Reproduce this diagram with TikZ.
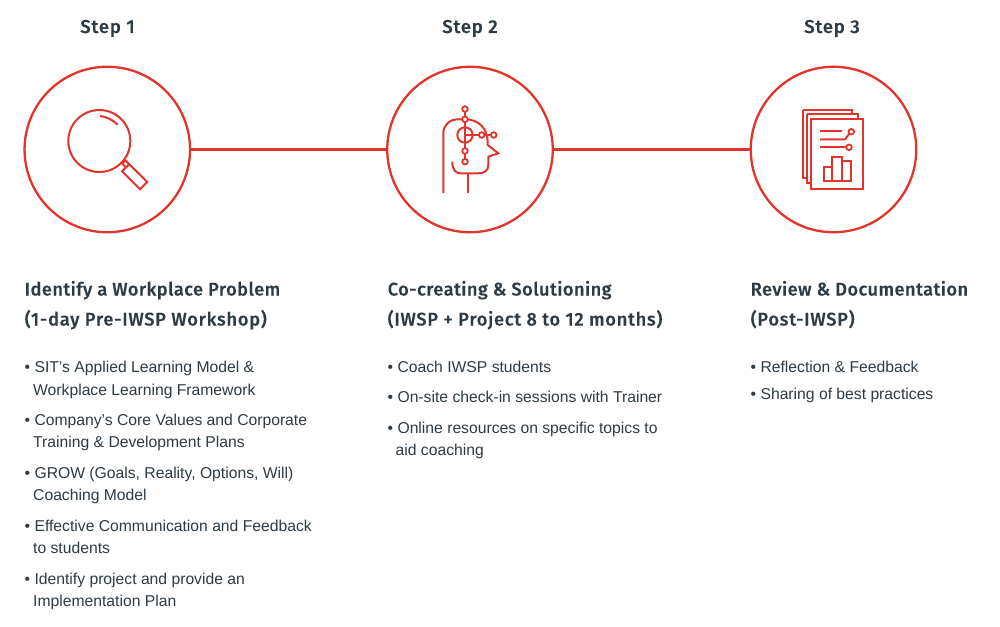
\documentclass[tikz,border=0pt]{standalone}
\usepackage{fontspec}
\setmainfont{Liberation Sans}
\newfontfamily\headfont[LetterSpace=2.3,FakeBold=0.15]{Fira Sans Medium}
\newfontfamily\headfontwide[LetterSpace=4,FakeBold=0.15]{Fira Sans Medium}
\definecolor{iwred}{HTML}{E1352B}
\definecolor{iwink}{HTML}{2F3B43}
\tikzset{
  x=1pt,y=-1pt,
  bigcirc/.style={circle,draw=iwred,line width=2.3pt,minimum size=165.5pt,inner sep=0pt,fill=white},
  link/.style={draw=iwred,line width=3pt},
  icon/.style={draw=iwred,line width=2pt},
  dot/.style={circle,draw=iwred,line width=1.8pt,fill=white,minimum size=5.6pt,inner sep=0pt},
  steplabel/.style={text=iwink,font=\headfontwide\fontsize{18.6}{20}\selectfont,anchor=base},
  headtext/.style={text=iwink,font=\headfont\fontsize{18.3}{20}\selectfont,anchor=base west,inner sep=0pt},
  headwide/.style={text=iwink,font=\headfontwide\fontsize{18.3}{20}\selectfont,anchor=base west,inner sep=0pt},
  bodytext/.style={text=iwink,font=\fontsize{15.7}{18}\selectfont,anchor=base west,inner sep=0pt},
}
\begin{document}
\begin{tikzpicture}
\useasboundingbox (0,0) rectangle (1000,626);
\fill[white] (0,0) rectangle (1000,626);
\node[bigcirc] (c1) at (107.3,149.5) {};
\node[bigcirc] (c2) at (470,149.5) {};
\node[bigcirc] (c3) at (833.5,149.5) {};
\draw[link] (c1) -- (c2);
\draw[link] (c2) -- (c3);
\node[steplabel] (s1) at (107.5,33) {Step 1};
\node[steplabel] (s2) at (470,33) {Step 2};
\node[steplabel] (s3) at (832,33) {Step 3};
% magnifier
\draw[icon] (99.3,141) circle (31);
\draw[icon] (100,116) .. controls (106,116.5) and (113,120) .. (117.7,124.7);
\draw[icon] (129.3,164.3) -- (147.3,182) -- (140,189.3) -- (122,171.3) -- cycle;
\draw[icon] (122.2,163.6) -- (126,167.6);
\draw[icon] (122.2,163.6) -- (125.6,160.4) -- (129.3,164.3);
% head
\draw[icon] (443.3,193) -- (443.3,133) .. controls (443.3,125) and (450,119.3) .. (458,119.3) -- (465,119.3) .. controls (478,119.3) and (487.7,128) .. (487.7,142) -- (487.7,145) -- (498.3,153.3) -- (488.3,156.7) -- (488.3,165) .. controls (488.3,171) and (484,173.3) .. (478.3,173.3) -- (460,173.3) .. controls (456,173.3) and (452.3,170) .. (452.3,161.7);
\draw[icon] (467.7,173.3) -- (467.7,193);
\draw[icon] (465,109) -- (465,161.7);
\draw[icon] (465,135) -- (493.7,135);
\draw[icon] (465,135) circle (7.7);
\node[dot] (d1) at (465,109) {};
\node[dot] (d2) at (465,119.3) {};
\node[dot] (d3) at (465,151) {};
\node[dot] (d4) at (465,161.7) {};
\node[dot] (d5) at (481.7,135) {};
\node[dot] (d6) at (493.7,135) {};
% documents
\draw[icon] (806.7,114.3) -- (857.7,114.3) -- (857.7,118.7);
\draw[icon] (806.7,114.3) -- (806.7,182.7) -- (811,182.7);
\draw[icon] (802.7,110) -- (852.3,110) -- (852.3,114.3);
\draw[icon] (802.7,110) -- (802.7,177.7) -- (806.7,177.7);
\draw[icon] (811,118.7) rectangle (863.3,189.3);
\draw[icon] (820,130.7) -- (841.7,130.7);
\draw[icon] (820,139.3) -- (845,139.3) -- (849.5,133.5);
\draw[icon] (820,147.3) -- (846,147.3);
\node[dot] (d7) at (851.3,131.7) {};
\node[dot] (d8) at (849,147.3) {};
\draw[icon] (824,166.7) rectangle (832.3,180.7);
\draw[icon] (832.3,156.7) rectangle (842.3,180.7);
\draw[icon] (842.3,160.7) rectangle (850.7,180.7);
% column 1
\node[headtext] (h11) at (24.5,295.5) {Identify a Workplace Problem};
\node[headwide] (h12) at (24.5,325.5) {(1-day Pre-IWSP Workshop)};
\node[bodytext] (a1) at (24.5,372) {• SIT’s Applied Learning Model \&};
\node[bodytext] (a2) at (33,395) {Workplace Learning Framework};
\node[bodytext] (a3) at (24.5,425) {• Company’s Core Values and Corporate};
\node[bodytext] (a4) at (33,447.5) {Training \& Development Plans};
\node[bodytext] (a5) at (24.5,478) {• GROW (Goals, Reality, Options, Will)};
\node[bodytext] (a6) at (33,500) {Coaching Model};
\node[bodytext] (a7) at (24.5,531) {• Effective Communication and Feedback};
\node[bodytext] (a8) at (33,553) {to students};
\node[bodytext] (a9) at (24.5,584) {• Identify project and provide an};
\node[bodytext] (a10) at (33,606) {Implementation Plan};
% column 2
\node[headtext] (h21) at (387.5,295.5) {Co-creating \& Solutioning};
\node[headwide] (h22) at (387.5,325.5) {(IWSP + Project 8 to 12 months)};
\node[bodytext] (b1) at (387.5,372) {• Coach IWSP students};
\node[bodytext] (b2) at (387.5,402.5) {• On-site check-in sessions with Trainer};
\node[bodytext] (b3) at (387.5,433) {• Online resources on specific topics to};
\node[bodytext] (b4) at (395.5,455.5) {aid coaching};
% column 3
\node[headtext] (h31) at (750.5,295.5) {Review \& Documentation};
\node[headwide] (h32) at (750.5,325.5) {(Post-IWSP)};
\node[bodytext] (e1) at (750.5,372) {• Reflection \& Feedback};
\node[bodytext] (e2) at (750.5,399.5) {• Sharing of best practices};
\end{tikzpicture}
\end{document}
